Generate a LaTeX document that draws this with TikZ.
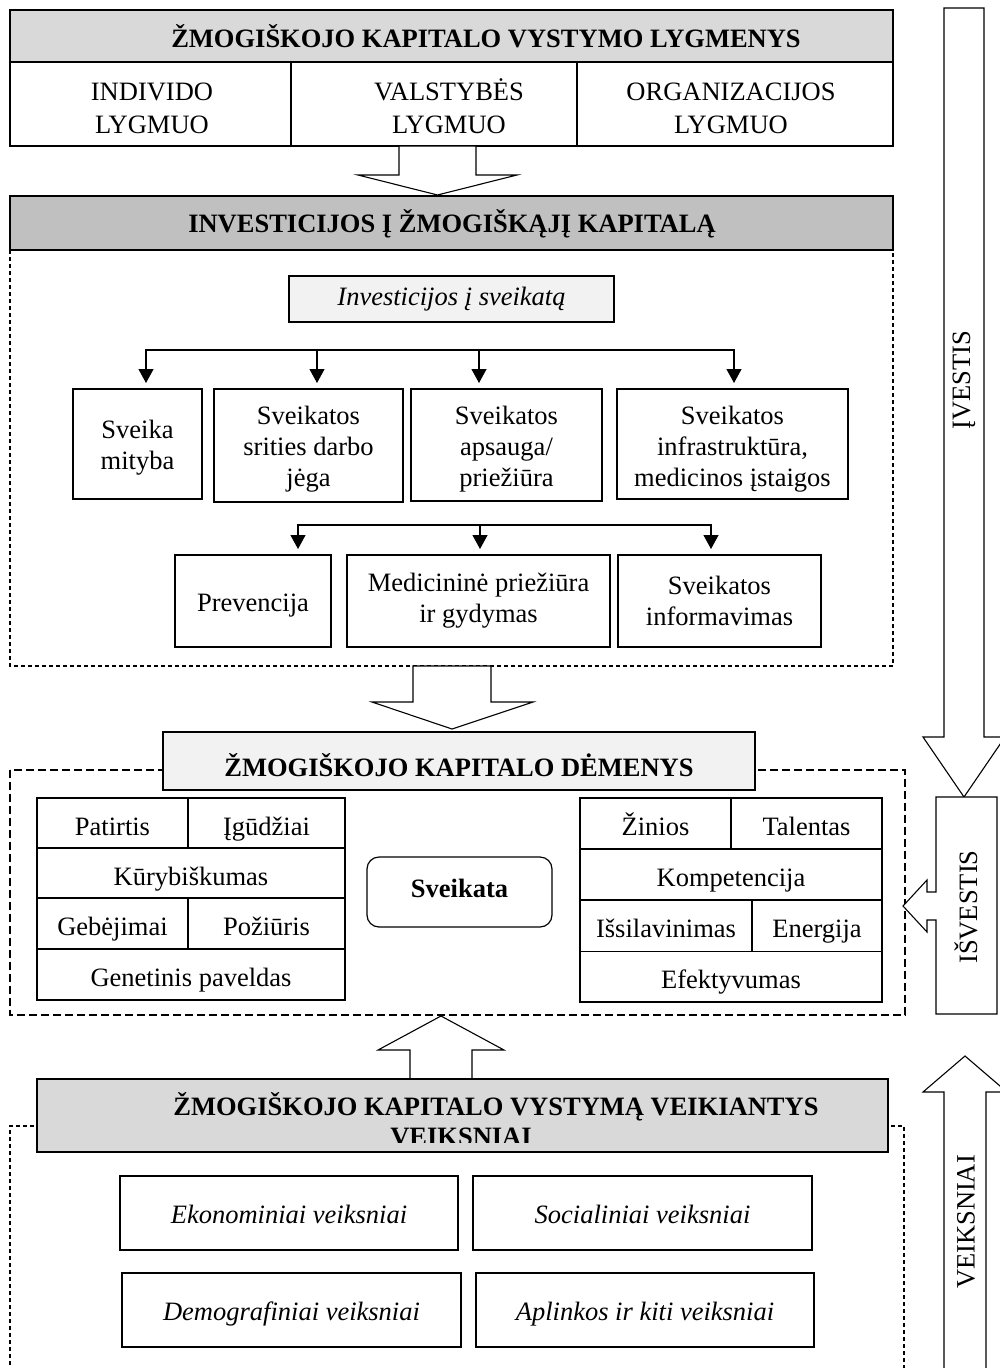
\documentclass[tikz,border=0pt]{standalone}
\usepackage{fontspec}
\setmainfont{Liberation Serif}
\usetikzlibrary{arrows.meta,calc}
\definecolor{hdrlight}{HTML}{D9D9D9}
\definecolor{hdrdark}{HTML}{C0C0C0}
\definecolor{paleg}{HTML}{F2F2F2}

\begin{document}
\begin{tikzpicture}[x=1pt,y=-1pt,
  every node/.style={font=\fontsize{26.5}{31}\selectfont, inner sep=0pt, outer sep=0pt},
  frame/.style={draw, line width=1.2pt},
  cell/.style={frame, fill=white, align=center},
  gridcell/.style={cell, text height=24pt, text depth=0pt},
  factor/.style={cell, font=\fontsize{26.5}{31}\selectfont\itshape, text height=20pt, text depth=0pt},
  ttl/.style={font=\fontsize{26.5}{31}\selectfont\bfseries, anchor=base},
  lvl/.style={font=\fontsize{26.5}{33}\selectfont, align=center, anchor=base},
  bigarrow/.style={draw, line width=1.1pt, fill=white, line join=miter},
  fine dash/.style={draw, line width=1.1pt, dash pattern=on 4pt off 3pt},
  wide dash/.style={draw, line width=1.1pt, dash pattern=on 8pt off 4pt},
  tip/.style={-{Triangle[width=15pt,length=14pt]}, line width=1.2pt, shorten >=6pt},
  bar/.style={line width=1.2pt, line cap=rect},
  side/.style={font=\fontsize{26.5}{31}\selectfont, rotate=90},
]
\useasboundingbox (0,0) rectangle (999,1368);
\fill[white] (0,0) rectangle (999,1368);

% ---------- levels of development ----------
\node[frame, fill=hdrlight, minimum width=883pt, minimum height=52pt] (lvh) at (451.5,36) {};
\node[ttl] (lvht) at (486,47) {ŽMOGIŠKOJO KAPITALO VYSTYMO LYGMENYS};
\node[frame, minimum width=281pt, minimum height=84pt] (l1) at (150.5,104) {};
\node[frame, minimum width=286pt, minimum height=84pt] (l2) at (434,104) {};
\node[frame, minimum width=316pt, minimum height=84pt] (l3) at (735,104) {};
% the base anchor of a multi-line node sits on its last line
\node[lvl] (l1t) at (152,133) {INDIVIDO\\LYGMUO};
\node[lvl] (l2t) at (449,133) {VALSTYBĖS\\LYGMUO};
\node[lvl] (l3t) at (731,133) {ORGANIZACIJOS\\LYGMUO};

% block arrow down into investments
\draw[bigarrow] (399,146) -- (476,146) -- (476,175) -- (517,175) -- (437.5,195)
  -- (358,175) -- (399,175) -- cycle;

% ---------- investments ----------
\draw[fine dash] (10,250) -- (10,666) -- (893,666) -- (893,250);
\node[frame, fill=hdrdark, minimum width=883pt, minimum height=54pt] (invh) at (451.5,223) {};
\node[ttl] (invht) at (452,232) {INVESTICIJOS Į ŽMOGIŠKĄJĮ KAPITALĄ};
\node[frame, fill=paleg, minimum width=325pt, minimum height=46pt,
  font=\fontsize{26.5}{31}\selectfont\itshape] (isv) at (451.5,299) {Investicijos į sveikatą};

\node[cell, text height=50pt, text depth=0pt, minimum width=129pt, minimum height=110pt] (m1) at (137.5,444) {Sveika\\mityba};
\node[cell, text height=81pt, text depth=0pt, minimum width=189pt, minimum height=113pt] (m2) at (308.5,445.5) {Sveikatos\\srities darbo\\jėga};
\node[cell, text height=82pt, text depth=0pt, minimum width=191pt, minimum height=112pt] (m3) at (506.5,445) {Sveikatos\\apsauga/\\priežiūra};
\node[cell, text height=84pt, text depth=0pt, minimum width=231pt, minimum height=110pt] (m4) at (732.5,444) {Sveikatos\\infrastruktūra,\\medicinos įstaigos};

\coordinate (a1) at (146,350);
\coordinate (a2) at (317,350);
\coordinate (a3) at (479,350);
\coordinate (a4) at (734,350);
\draw[bar] (a1) -- (a4);
\foreach \k/\b in {1/m1,2/m2,3/m3,4/m4}
  \draw[tip] (a\k) -- (a\k |- \b.north);

\node[cell, text height=20pt, text depth=0pt, minimum width=156pt, minimum height=92pt] (p1) at (253,601) {Prevencija};
\node[cell, minimum width=263pt, minimum height=92pt] (p2) at (478.5,601) {Medicininė priežiūra\\ir gydymas};
\node[cell, minimum width=203pt, minimum height=92pt] (p3) at (719.5,601) {Sveikatos\\informavimas};

\coordinate (c1) at (298,525);
\coordinate (c2) at (480,525);
\coordinate (c3) at (711,525);
\draw[bar] (c1) -- (c3);
\foreach \k/\b in {1/p1,2/p2,3/p3}
  \draw[tip] (c\k) -- (c\k |- \b.north);

% block arrow down into components
\draw[bigarrow] (413,666) -- (491,666) -- (491,702) -- (533,702) -- (452,729)
  -- (372,702) -- (413,702) -- cycle;

% ---------- components ----------
\draw[wide dash] (10,770) rectangle (905,1015);
\node[frame, fill=paleg, minimum width=592pt, minimum height=58pt] (demh) at (459,761) {};
\node[ttl] (demht) at (459,776) {ŽMOGIŠKOJO KAPITALO DĖMENYS};

\node[gridcell, minimum width=151pt, minimum height=50pt] (g1) at (112.5,823) {Patirtis};
\node[gridcell, minimum width=157pt, minimum height=50pt] (g2) at (266.5,823) {Įgūdžiai};
\node[gridcell, minimum width=308pt, minimum height=50pt] (g3) at (191,873) {Kūrybiškumas};
\node[gridcell, minimum width=151pt, minimum height=51pt] (g4) at (112.5,923.5) {Gebėjimai};
\node[gridcell, minimum width=157pt, minimum height=51pt] (g5) at (266.5,923.5) {Požiūris};
\node[gridcell, minimum width=308pt, minimum height=51pt] (g6) at (191,974.5) {Genetinis paveldas};

\node[gridcell, minimum width=151pt, minimum height=51pt] (r1) at (655.5,823.5) {Žinios};
\node[gridcell, minimum width=151pt, minimum height=51pt] (r2) at (806.5,823.5) {Talentas};
\node[gridcell, minimum width=302pt, minimum height=51pt] (r3) at (731,874.5) {Kompetencija};
\node[gridcell, minimum width=172pt, minimum height=51.5pt] (r4) at (666,925.75) {Išsilavinimas};
\node[gridcell, minimum width=130pt, minimum height=51.5pt] (r5) at (817,925.75) {Energija};
\node[gridcell, minimum width=302pt, minimum height=50.5pt] (r6) at (731,976.75) {Efektyvumas};

\node[frame, fill=white, rounded corners=12pt, minimum width=185pt, minimum height=70pt,
  font=\fontsize{26.5}{31}\selectfont\bfseries, text height=18pt, text depth=8pt] (sv) at (459.5,892) {Sveikata};

% block arrow up from factors
\draw[bigarrow] (410,1079) -- (410,1050) -- (378,1050) -- (441,1016) -- (504,1050)
  -- (472,1050) -- (472,1079);

% ---------- factors ----------
\draw[fine dash] (10,1372) -- (10,1126) -- (904,1126) -- (904,1372);
\node[frame, fill=hdrlight, minimum width=851pt, minimum height=73pt] (vkh) at (462.5,1115.5) {};
\node[ttl] (vkht) at (496,1115) {ŽMOGIŠKOJO KAPITALO VYSTYMĄ VEIKIANTYS};
\begin{scope}
  \clip (37,1080) rectangle (888,1142.7);
  \node[ttl] (vkht2) at (461,1145.7) {VEIKSNIAI};
\end{scope}

\node[factor, minimum width=338pt, minimum height=74pt] (e1) at (289,1213) {Ekonominiai veiksniai};
\node[factor, minimum width=339pt, minimum height=74pt] (e2) at (642.5,1213) {Socialiniai veiksniai};
\node[factor, minimum width=339pt, minimum height=74pt] (e3) at (291.5,1310) {Demografiniai veiksniai};
\node[factor, minimum width=338pt, minimum height=74pt] (e4) at (645,1310) {Aplinkos ir kiti veiksniai};

% ---------- side arrows ----------
\draw[bigarrow] (944,8) -- (984,8) -- (984,737) -- (1005,737) -- (964,797)
  -- (923,737) -- (944,737) -- cycle;
\node[side] (inL) at (964,380) {ĮVESTIS};

\draw[bigarrow] (936,797) -- (997,797) -- (997,1014) -- (936,1014) -- (936,920)
  -- (927,920) -- (927,932) -- (903,906) -- (927,880) -- (927,892) -- (936,892) -- cycle;
\node[side] (outL) at (966,907) {IŠVESTIS};

\draw[bigarrow] (944,1372) -- (944,1092) -- (923,1092) -- (965,1056) -- (1007,1092)
  -- (986,1092) -- (986,1372);
\node[side] (facL) at (966,1222) {VEIKSNIAI};

\end{tikzpicture}
\end{document}
